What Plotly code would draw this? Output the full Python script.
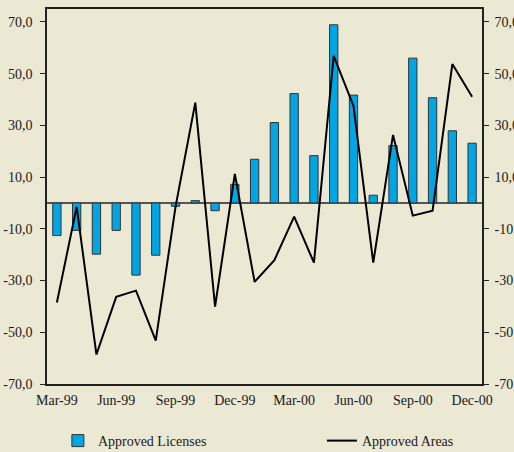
import plotly.graph_objects as go

months = ["Mar-99", "Apr-99", "May-99", "Jun-99", "Jul-99", "Aug-99", "Sep-99",
          "Oct-99", "Nov-99", "Dec-99", "Jan-00", "Feb-00", "Mar-00", "Apr-00",
          "May-00", "Jun-00", "Jul-00", "Aug-00", "Sep-00", "Oct-00", "Nov-00",
          "Dec-00"]
licenses = [-12.6, -10.6, -19.8, -10.6, -27.9, -20.2, -1.3, 0.9, -3.0, 7.2,
            16.9, 31.1, 42.3, 18.3, 68.9, 41.7, 3.0, 22.2, 56.0, 40.7, 27.9, 23.1]
areas = [-38.5, -1.5, -58.6, -36.3, -33.9, -53.2, -1.5, 38.8, -40.1, 11.2,
         -30.5, -22.1, -5.3, -23.1, 56.9, 37.5, -23.1, 26.3, -4.9, -3.0, 53.7, 41.1]
tick_labels = ["Mar-99", "Jun-99", "Sep-99", "Dec-99", "Mar-00", "Jun-00",
               "Sep-00", "Dec-00"]
y_ticks = [-70, -50, -30, -10, 10, 30, 50, 70]
y_text = [("%.1f" % v).replace(".", ",") for v in y_ticks]

idx = list(range(len(months)))
tick_pos = [months.index(t) for t in tick_labels]
boundaries = [p - 0.5 for p in tick_pos[1:]]

bg = "#EBE8D4"
font = dict(family="Liberation Serif, Times New Roman, serif", size=14, color="#1a1a1a")

fig = go.Figure()
fig.add_trace(go.Bar(
    x=idx, y=licenses, name="Approved Licenses", width=0.42, legend="legend",
    marker=dict(color="#00A6E4", line=dict(color="#333", width=1)),
))
fig.add_trace(go.Scatter(
    x=idx, y=areas, name="Approved Areas", mode="lines", yaxis="y2",
    legend="legend2", line=dict(color="black", width=2),
))

xr = [-0.5, len(months) - 0.5]
yr = [-70, 75]
fig.update_layout(
    width=514, height=452,
    paper_bgcolor=bg, plot_bgcolor=bg,
    font=font,
    margin=dict(l=47, r=32, t=9, b=68, autoexpand=False),
    showlegend=True,
    legend=dict(x=0.025, xanchor="left", y=-0.152, yanchor="middle",
                bgcolor="rgba(0,0,0,0)", font=font),
    legend2=dict(x=0.632, xanchor="left", y=-0.152, yanchor="middle",
                 bgcolor="rgba(0,0,0,0)", font=font),
    xaxis=dict(range=xr, tickvals=tick_pos, ticktext=tick_labels,
               showgrid=False, zeroline=False, showline=True, mirror=True,
               linecolor="#222", linewidth=1.5, ticks="", automargin=False,
               ticklabelstandoff=2),
    xaxis2=dict(range=xr, overlaying="x", anchor="free", position=0.483,
                tickvals=boundaries, ticks="outside", ticklen=4,
                tickcolor="#333", showticklabels=False, showgrid=False,
                zeroline=False, showline=False, automargin=False),
    yaxis=dict(range=yr, tickvals=y_ticks, ticktext=y_text,
               showgrid=False, zeroline=True, zerolinecolor="#555",
               zerolinewidth=1.5, showline=True, linecolor="#222",
               linewidth=1.5, ticks="outside", ticklen=5, tickcolor="#222",
               automargin=False, ticklabelstandoff=5),
    yaxis2=dict(range=yr, overlaying="y", side="right",
                tickvals=y_ticks, ticktext=y_text,
                showgrid=False, zeroline=False, showline=True,
                linecolor="#222", linewidth=1.5, ticks="outside", ticklen=5,
                tickcolor="#222", automargin=False, ticklabelstandoff=3),
)

fig.write_html("out.html", config={"displayModeBar": False},
               post_script="document.body.style.margin='0';")
